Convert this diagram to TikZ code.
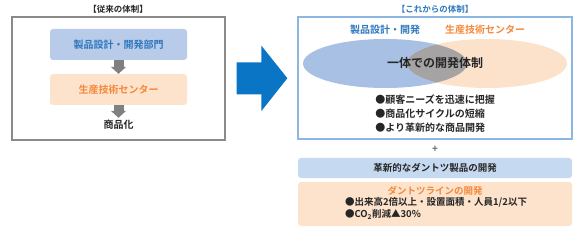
\documentclass[tikz,border=0pt]{standalone}
\usepackage{fontspec}
\setmainfont{Noto Sans CJK JP}[BoldFont={Noto Sans CJK JP Bold}]
\usetikzlibrary{positioning, arrows.meta}
\definecolor{deptfill}{HTML}{B8CCEA}
\definecolor{deptink}{HTML}{2F78BE}
\definecolor{prodfill}{HTML}{FDE3CB}
\definecolor{prodink}{HTML}{F5883A}
\definecolor{bigblue}{HTML}{0A75C4}
\definecolor{frameblue}{HTML}{8CB7E3}
\definecolor{framegray}{HTML}{8A8A8A}
\definecolor{ovlgray}{HTML}{A6A3A5}
\definecolor{ellblue}{HTML}{A8C0E3}
\definecolor{ellorange}{HTML}{FCE2CB}
\definecolor{barblue}{HTML}{C5D9F1}
\definecolor{arrowgray}{HTML}{808080}
\definecolor{ink}{HTML}{262626}
\tikzset{frame/.style={draw, line width=1.2pt},
heading/.style={font=\fontsize{8.5}{10}\selectfont\bfseries},
unit/.style={rounded corners=3pt, minimum width=137pt, minimum height=31pt, font=\fontsize{10}{12}\selectfont\bfseries},
bar/.style={rounded corners=3pt, minimum width=274pt, font=\fontsize{9.5}{12}\selectfont\bfseries, text=ink},
plain/.style={font=\fontsize{10}{14}\selectfont\bfseries, text=ink, align=left},
down/.style={-{Triangle[length=7pt, width=15pt]}, line width=10pt, draw=arrowgray},
bigarrow/.style={-{Triangle[length=26pt, width=64pt]}, line width=32pt, draw=bigblue, shorten <=11pt, shorten >=10pt}}

\begin{document}
\begin{tikzpicture}[x=1pt, y=-1pt]
  \useasboundingbox (0,0) rectangle (580,232);
  % old structure
  \node[heading, text=ink] (oldtitle) at (118,9) {【従来の体制】};
  \node[frame, draw=framegray, minimum width=213pt, minimum height=123pt] (oldframe) at (118.5,78.5) {};
  \node[unit, fill=deptfill, text=deptink] (dept) at (118.5,44.5) {製品設計・開発部門};
  \node[unit, fill=prodfill, text=prodink] (prodc) at (118.5,89.5) {生産技術センター};
  \node[font=\fontsize{10}{12}\selectfont\bfseries, text=ink] (goods) at (118.5,125) {商品化};
  \draw[down] (dept) -- (prodc);
  \draw[down] (prodc.south) -- ([yshift=-1pt]goods.north);

  % new structure
  \node[heading, text=deptink] (newtitle) at (435,9) {【これからの体制】};
  \node[frame, draw=frameblue, minimum width=274pt, minimum height=122pt] (newframe) at (435,78) {};
  \draw[bigarrow] (oldframe) -- (newframe);
  \fill[ellblue] (385,63.5) ellipse [x radius=82, y radius=24.5];
  \fill[ellorange] (487,63.5) ellipse [x radius=80, y radius=24.5];
  \begin{scope}
    \clip (385,63.5) ellipse [x radius=82, y radius=24.5];
    \fill[ovlgray] (487,63.5) ellipse [x radius=80, y radius=24.5];
  \end{scope}
  \node[font=\fontsize{10}{12}\selectfont\bfseries, text=deptink] (devlabel) at (385,30) {製品設計・開発};
  \node[font=\fontsize{10}{12}\selectfont\bfseries, text=prodink] (prodlabel) at (485,30) {生産技術センター};
  \node[font=\fontsize{12}{14}\selectfont\bfseries, text=ink] (joint) at (435,63) {一体での開発体制};
  \node[plain] (aims) at (435,114) {●顧客ニーズを迅速に把握\\●商品化サイクルの短縮\\●より革新的な商品開発};
  \node[font=\fontsize{10}{12}\selectfont\bfseries, text=gray!80!black] (plus) at (435,149) {+};
  \node[bar, fill=barblue, minimum height=20pt] (product) at (435,168) {革新的なダントツ製品の開発};
  \node[bar, fill=prodfill, minimum height=44pt] (line) at (435,204) {};
  \node[font=\fontsize{9.5}{12}\selectfont\bfseries, text=prodink] (linetitle) at (435,191) {ダントツラインの開発};
  \node[font=\fontsize{9.5}{11.5}\selectfont\bfseries, text=ink, align=left] (lineaims) at (436,208.5) {●出来高2倍以上・設置面積・人員1/2以下\\●CO\textsubscript{2}削減▲30\%};
\end{tikzpicture}
\end{document}
